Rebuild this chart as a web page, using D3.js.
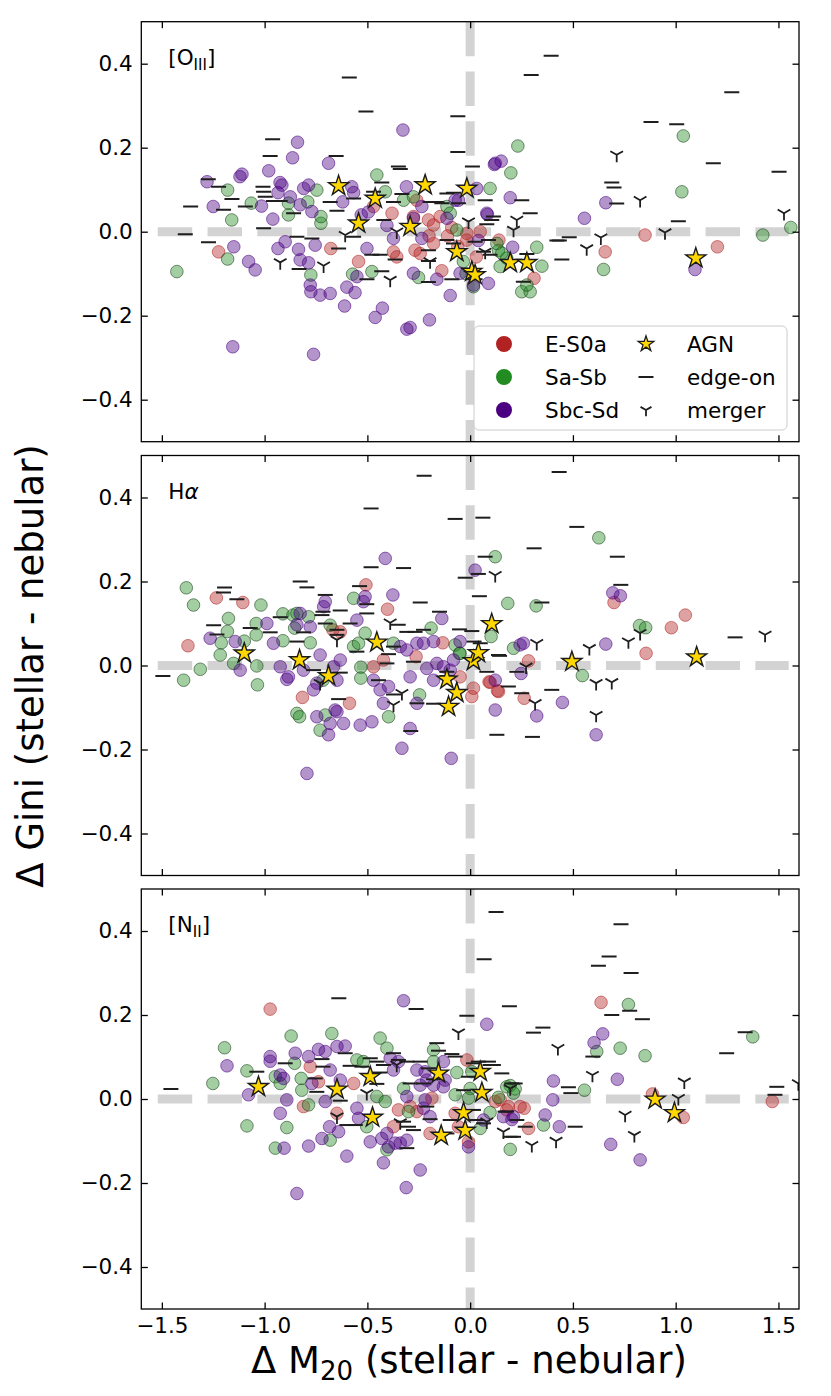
<!DOCTYPE html>
<html>
<head>
<meta charset="utf-8">
<script src="https://cdn.jsdelivr.net/npm/d3@7"></script>
<style>
  body { margin: 0; background: #fff; }
  svg { display: block; font-family: "DejaVu Sans", sans-serif; }
</style>
</head>
<body>
<svg id="chart" width="831" height="1396"></svg>
<script>
// [dM20, dGini] pairs, one array per panel and class

// [OIII]
const oiiiES0a = [[-0.47,0.06],[-0.38,0.044],[-0.26,0.075],[-0.276,0.036],[-0.203,0.028],[-0.178,0.016],[-0.146,0.036],[0.049,0.0],[-0.016,-0.004],[-1.224,-0.048],[-0.678,-0.04],[-0.543,-0.071],[-0.357,-0.06],[-0.373,-0.048],[-0.268,-0.044],[-0.243,-0.052],[-0.178,-0.028],[-0.138,-0.093],[-0.016,-0.02],[0.851,-0.008],[1.203,-0.036],[0.657,-0.048],[0.311,-0.111],[-0.11,-0.01],[-0.06,-0.035],[-0.09,0.01],[0.03,-0.06],[-0.2,-0.01],[0.14,-0.02]]
const oiiiSaSb = [[-1.18,0.099],[-1.16,0.028],[-1.065,0.068],[-0.884,0.04],[-0.884,0.068],[-0.79,0.071],[-0.746,0.099],[-0.726,0.02],[-0.726,0.036],[-0.454,0.135],[-0.413,0.095],[-0.324,0.075],[-0.276,0.083],[-0.113,0.06],[-0.097,0.044],[-0.065,0.004],[0.097,0.103],[0.232,0.204],[1.037,0.228],[1.03,0.095],[0.198,0.14],[1.56,0.01],[1.424,-0.008],[0.324,-0.037],[0.138,-0.045],[-1.427,-0.095],[-1.18,-0.065],[-0.775,-0.103],[-0.572,-0.101],[-0.478,-0.095],[-0.251,-0.109],[0.016,-0.131],[-0.033,-0.071],[0.13,-0.028],[0.649,-0.09],[0.349,-0.082],[0.251,-0.143],[0.292,-0.143],[0.276,-0.127],[0.146,-0.083],[0.178,-0.063],[0.154,-0.051],[-0.02,-0.1]]
const oiiiSbcSd = [[-0.84,0.213],[-0.864,0.176],[-1.28,0.119],[-1.25,0.06],[-1.11,0.137],[-1.12,0.131],[-0.98,0.145],[-1.015,0.061],[-0.96,0.03],[-0.935,0.093],[-0.925,0.117],[-0.916,0.111],[-0.875,0.083],[-0.827,0.064],[-0.81,0.103],[-0.786,0.111],[-0.689,0.163],[-0.77,0.048],[-0.62,0.071],[-0.576,0.107],[-0.567,0.093],[-0.53,0.04],[-0.495,0.047],[-0.327,0.242],[-0.31,0.107],[-0.373,-0.016],[-0.405,0.015],[-0.235,0.06],[-0.276,0.032],[-0.113,0.032],[-0.057,0.075],[0.081,0.044],[0.122,0.163],[0.118,0.16],[0.151,0.168],[0.195,0.081],[0.084,0.041],[0.556,0.032],[0.66,0.069],[0.207,-0.037],[0.04,-0.021],[0.032,0.103],[-0.073,0.075],[-1.15,-0.036],[-1.078,-0.071],[-1.046,-0.091],[-1.155,-0.274],[-0.762,-0.292],[-0.935,-0.04],[-0.9,-0.024],[-0.835,-0.042],[-0.827,-0.067],[-0.786,-0.074],[-0.754,-0.032],[-0.778,-0.127],[-0.775,-0.143],[-0.73,-0.151],[-0.681,-0.147],[-0.6,-0.132],[-0.56,-0.145],[-0.611,-0.177],[-0.462,-0.204],[-0.427,-0.182],[-0.308,-0.232],[-0.292,-0.228],[-0.198,-0.21],[-0.097,-0.152],[-0.162,-0.113],[-0.276,-0.099],[-0.502,-0.04],[-0.235,-0.016],[0.016,-0.127],[0.089,-0.123],[-0.049,-0.099],[-0.551,-0.107],[1.094,-0.09]]
const oiiiAgn = [[-0.64,0.109],[-0.462,0.079],[-0.543,0.02],[-0.219,0.111],[-0.292,0.012],[-0.016,0.103],[-0.065,-0.048],[0.008,-0.095],[0.024,-0.103],[0.195,-0.074],[0.276,-0.074],[1.098,-0.063]]
const oiiiEdgeOn = [[-0.588,0.367],[-0.507,0.286],[-0.961,0.22],[-0.973,0.18],[-0.652,0.18],[-0.06,0.275],[-0.06,0.19],[0.011,0.155],[-0.349,0.155],[-0.34,0.149],[-1.274,0.125],[-1.224,0.107],[-1.36,0.06],[-1.159,0.078],[-1.2,0.052],[-1.094,0.06],[-1.008,0.107],[-1.005,0.095],[-0.997,0.083],[-0.957,0.073],[-0.924,0.073],[-1.005,0.008],[-1.386,-0.006],[-0.681,0.071],[-0.648,0.05],[-0.567,0.079],[-0.47,0.095],[-0.43,0.117],[-0.42,0.028],[-0.373,0.071],[-0.332,0.09],[-0.195,0.071],[-0.162,0.071],[-0.138,0.068],[-0.113,0.091],[-0.081,0.093],[-0.057,0.068],[-0.843,-0.012],[-0.77,-0.016],[-0.859,0.044],[0.394,0.419],[0.297,0.373],[1.273,0.332],[0.88,0.261],[1.005,0.256],[1.183,0.163],[1.503,0.143],[0.689,0.117],[0.7,0.105],[0.713,0.067],[0.251,0.075],[0.073,0.075],[0.292,0.044],[0.113,0.036],[0.105,0.028],[0.081,0.018],[1.013,0.025],[0.482,-0.013],[0.434,-0.021],[-1.273,-0.025],[-0.64,-0.04],[-0.832,-0.089],[-0.502,-0.113],[-0.478,-0.055],[-0.438,-0.055],[-0.365,-0.066],[-0.43,-0.094],[-0.203,-0.044],[-0.203,-0.07],[-0.203,-0.12],[-0.113,-0.02],[-0.081,-0.028],[-0.089,-0.113],[0.024,-0.024],[0.024,-0.113],[0.097,-0.055],[-0.567,-0.012],[0.446,-0.066],[0.422,-0.021],[0.259,-0.119],[0.065,-0.048],[0.089,-0.02],[0.276,-0.053]]
const oiiiMerger = [[-0.608,-0.008],[-0.357,0.0],[-0.008,0.024],[0.713,0.183],[0.827,0.075],[1.527,0.044],[0.948,-0.002],[0.636,-0.014],[0.227,0.028],[0.211,0.004],[0.567,-0.04],[-0.924,-0.073],[-0.713,-0.081],[-0.389,-0.115],[-0.195,-0.071],[0.073,-0.048]]

// H-alpha
const haES0a = [[-1.235,0.161],[-1.373,0.047],[-1.106,0.15],[-0.816,-0.076],[-0.587,-0.09],[-0.668,0.085],[-0.632,0.08],[-0.507,0.192],[-0.402,0.134],[-0.47,-0.003],[-0.422,0.013],[-0.263,0.021],[-0.133,0.054],[-0.049,-0.027],[0.016,-0.054],[0.008,-0.074],[0.092,-0.039],[0.138,-0.062],[1.047,0.12],[0.979,0.09],[0.856,0.029],[0.7,0.15],[0.284,0.011],[0.097,-0.04],[0.133,-0.06],[0.263,-0.078]]
const haSaSb = [[-1.381,0.185],[-1.346,0.144],[-1.394,-0.035],[-1.313,-0.009],[-1.176,0.112],[-1.181,0.081],[-1.211,0.054],[-1.216,0.025],[-1.151,0.005],[-1.099,0.058],[-1.041,0.1],[-1.041,0.073],[-1.038,-0.001],[-1.035,-0.046],[-1.018,0.144],[-0.911,0.123],[-0.911,0.059],[-0.862,0.12],[-0.854,0.089],[-0.843,0.124],[-0.786,0.116],[-0.778,0.054],[-0.843,-0.114],[-0.83,-0.122],[-0.73,-0.154],[-0.705,-0.118],[-0.716,-0.035],[-0.681,0.096],[-0.567,0.16],[-0.567,0.045],[-0.543,0.053],[-0.532,-0.004],[-0.532,-0.03],[-0.511,0.077],[-0.397,-0.122],[-0.373,0.053],[-0.246,-0.07],[-0.19,0.089],[-0.052,0.029],[0.102,0.069],[0.183,0.148],[0.122,0.259],[0.211,0.041],[0.626,0.304],[0.321,0.142],[0.824,0.095],[0.854,0.09],[0.546,-0.024],[-0.073,0.049],[-0.049,0.029]]
const haSbcSd = [[-1.265,0.065],[-1.143,0.057],[-1.119,-0.011],[-0.989,0.1],[-0.957,0.053],[-0.924,-0.003],[-0.892,-0.033],[-0.884,-0.027],[-0.843,0.097],[-0.827,0.124],[-0.778,0.092],[-0.811,-0.011],[-0.762,-0.058],[-0.746,-0.042],[-0.713,0.14],[-0.705,0.152],[-0.73,0.025],[-0.746,-0.122],[-0.681,-0.138],[-0.648,-0.11],[-0.657,-0.106],[-0.689,-0.165],[-0.616,-0.138],[-0.665,-0.003],[-0.632,0.013],[-0.648,-0.035],[-0.535,-0.142],[-0.478,-0.134],[-0.551,0.108],[-0.511,0.164],[-0.519,0.152],[-0.47,-0.035],[-0.438,-0.058],[-0.397,-0.05],[-0.422,-0.09],[-0.413,0.255],[-0.376,0.168],[-0.332,-0.197],[-0.34,0.045],[-0.308,0.037],[-0.292,-0.027],[-0.259,0.053],[-0.227,0.053],[-0.178,0.057],[-0.211,-0.007],[-0.162,0.005],[-0.13,-0.003],[-0.178,-0.035],[-0.138,0.112],[-0.259,-0.09],[-0.292,-0.15],[-0.092,-0.221],[0.024,0.227],[-0.049,0.057],[-0.081,0.013],[-0.097,-0.011],[0.122,-0.035],[0.122,-0.106],[-0.794,-0.257],[0.243,0.049],[0.694,0.173],[0.731,0.166],[0.259,0.053],[0.66,0.051],[0.248,-0.019],[0.449,-0.088],[0.324,-0.12],[0.613,-0.165]]
const haAgn = [[-1.099,0.029],[-0.83,0.013],[-0.689,-0.025],[-0.454,0.055],[-0.113,-0.033],[-0.065,-0.065],[-0.105,-0.098],[0.016,0.011],[0.04,0.03],[0.105,0.099],[0.495,0.009],[1.102,0.02]]
const haEdgeOn = [[-0.224,0.452],[-0.482,0.374],[-0.073,0.349],[0.062,0.352],[0.073,0.259],[-0.024,0.209],[0.04,0.218],[0.045,0.165],[-0.482,0.234],[-0.324,0.232],[-0.827,0.2],[-0.794,0.186],[-1.195,0.186],[-1.2,0.174],[-1.135,0.158],[-1.248,0.096],[-1.232,0.074],[-1.07,0.089],[-0.973,0.079],[-0.924,0.115],[-0.843,0.057],[-0.811,0.079],[-1.495,-0.025],[-0.705,0.168],[-0.716,0.128],[-0.721,0.12],[-0.632,0.131],[-0.705,0.1],[-0.648,0.085],[-0.648,0.073],[-0.538,0.189],[-0.503,0.146],[-0.503,0.124],[-0.584,0.1],[-0.551,0.033],[-0.762,-0.011],[-0.632,-0.017],[-0.64,-0.08],[-0.446,-0.035],[-0.397,0.027],[-0.373,0.045],[-0.35,0.097],[-0.308,0.08],[-0.268,0.08],[-0.227,0.085],[-0.243,0.15],[-0.149,0.128],[-0.405,0.005],[-0.276,0.009],[-0.373,-0.069],[-0.259,-0.09],[-0.178,-0.091],[-0.289,-0.156],[-0.052,0.086],[0.008,0.082],[0.019,0.057],[0.049,0.053],[-0.113,-0.015],[-0.113,-0.025],[0.081,-0.015],[0.138,0.025],[0.186,-0.05],[0.13,-0.165],[0.433,0.461],[0.519,0.33],[0.311,0.279],[0.716,0.259],[0.733,0.192],[1.289,0.067],[0.349,0.15],[0.143,0.023],[0.227,-0.015],[0.251,-0.066],[0.397,-0.058],[0.303,-0.17]]
const haMerger = [[-0.389,0.102],[-0.332,-0.066],[-0.373,-0.094],[-0.73,-0.042],[-0.648,0.061],[0.122,0.215],[0.324,0.053],[0.58,0.041],[0.77,0.057],[0.827,0.077],[1.435,0.073],[0.272,-0.003],[0.613,-0.042],[0.689,-0.04],[0.316,-0.09],[0.613,-0.118]]

// [NII]
const niiES0a = [[-0.973,0.214],[-0.778,0.077],[-0.811,-0.018],[-0.648,-0.034],[-0.567,0.037],[-0.738,0.041],[-0.349,-0.026],[-0.292,-0.018],[-0.259,-0.03],[-0.373,-0.066],[-0.186,0.002],[-0.073,-0.034],[-0.057,-0.066],[-0.016,0.093],[-0.008,-0.102],[-0.195,-0.082],[0.146,-0.002],[0.178,-0.026],[0.243,-0.018],[0.637,0.23],[0.887,0.012],[1.037,-0.044],[1.47,-0.006],[0.263,-0.022],[0.284,-0.07],[0.186,-0.018],[0.122,-0.006]]
const niiSaSb = [[-1.195,0.122],[-1.252,0.037],[-1.086,0.067],[-1.086,-0.064],[-0.948,-0.117],[-0.892,-0.068],[-0.871,0.15],[-0.854,0.085],[-0.822,0.049],[-0.819,0.021],[-0.948,0.053],[-0.924,0.037],[-0.786,-0.014],[-0.673,0.156],[-0.681,-0.098],[-0.438,0.145],[-0.405,0.121],[-0.551,0.093],[-0.519,0.089],[-0.454,0.006],[-0.413,-0.006],[-0.503,-0.066],[-0.405,-0.121],[-0.324,0.025],[-0.3,-0.03],[-0.178,0.117],[-0.178,0.089],[-0.065,0.063],[-0.073,0.01],[0.008,0.065],[0.0,0.025],[-0.008,0.002],[0.097,-0.032],[0.049,-0.07],[0.195,-0.12],[0.195,0.032],[0.219,0.024],[0.138,0.004],[0.77,0.225],[1.375,0.148],[0.73,0.121],[0.851,0.103],[0.616,0.113],[0.556,0.021],[0.357,-0.062],[0.211,0.014],[0.178,0.029]]
const niiSbcSd = [[-1.183,0.079],[-1.078,0.01],[-0.973,0.101],[-0.973,0.09],[-0.924,0.057],[-0.908,0.049],[-0.851,0.109],[-0.892,-0.002],[-0.924,-0.034],[-0.786,0.101],[-0.738,0.118],[-0.705,0.113],[-0.77,0.037],[-0.705,-0.006],[-0.648,0.125],[-0.608,0.126],[-0.681,0.069],[-0.632,0.045],[-0.684,-0.066],[-0.64,-0.078],[-0.721,-0.094],[-0.786,-0.112],[-0.905,-0.117],[-0.6,-0.136],[-0.843,-0.225],[-0.551,-0.022],[-0.543,-0.046],[-0.486,-0.102],[-0.43,-0.094],[-0.405,-0.082],[-0.397,-0.114],[-0.365,-0.105],[-0.34,-0.105],[-0.308,-0.098],[-0.422,-0.152],[-0.324,0.234],[-0.311,-0.211],[-0.243,-0.169],[-0.389,0.097],[-0.349,0.089],[-0.373,0.069],[-0.308,0.006],[-0.259,0.069],[-0.219,0.065],[-0.243,0.033],[-0.211,0.045],[-0.178,0.033],[-0.219,-0.002],[-0.227,-0.022],[-0.195,-0.042],[-0.122,0.045],[-0.13,0.029],[-0.13,0.089],[0.081,0.178],[0.065,-0.05],[-0.008,-0.114],[0.211,-0.042],[0.645,0.155],[0.603,0.134],[0.716,0.047],[0.405,0.043],[0.402,-0.002],[0.365,-0.038],[0.434,-0.066],[0.684,-0.108],[0.827,-0.145],[0.162,-0.042],[0.203,-0.049]]
const niiAgn = [[-1.03,0.029],[-0.648,0.023],[-0.486,0.053],[-0.475,-0.044],[-0.154,0.061],[0.049,0.065],[0.057,0.015],[-0.032,-0.033],[-0.024,-0.075],[-0.141,-0.087],[0.9,-0.001],[0.994,-0.033]]
const niiEdgeOn = [[-1.456,0.024],[0.126,0.445],[0.068,0.333],[-0.639,0.24],[-0.263,0.214],[-0.016,0.198],[0.191,0.221],[-1.038,0.065],[-0.9,0.085],[-0.721,0.095],[-0.716,0.077],[-0.754,0.049],[-0.746,0.017],[-0.608,0.109],[-0.584,0.079],[-0.527,0.077],[-0.486,0.097],[-0.454,0.089],[-0.422,0.081],[-0.438,0.063],[-0.454,0.036],[-0.373,0.109],[-0.349,0.093],[-0.308,0.089],[-0.243,0.089],[-0.203,0.073],[-0.292,0.037],[-0.227,0.037],[-0.178,0.047],[-0.162,0.133],[-0.154,0.115],[-0.089,0.107],[-0.032,0.021],[-0.008,0.053],[0.016,0.085],[0.089,0.089],[0.113,0.081],[0.154,0.061],[0.219,0.037],[-0.632,-0.004],[-0.6,-0.062],[-0.559,-0.062],[-0.324,-0.054],[-0.3,-0.066],[-0.276,-0.074],[-0.308,-0.117],[-0.211,-0.018],[-0.195,-0.048],[-0.097,-0.05],[-0.113,-0.082],[0.016,-0.026],[0.032,-0.05],[0.065,-0.058],[0.178,-0.03],[0.211,-0.09],[0.227,-0.05],[0.734,0.416],[0.676,0.339],[0.624,0.317],[0.783,0.3],[0.689,0.2],[0.776,0.21],[0.838,0.19],[0.308,0.158],[0.354,0.17],[1.338,0.159],[1.248,0.109],[0.597,0.101],[0.478,0.028],[0.49,0.014],[1.492,0.029],[1.483,0.01],[0.511,-0.066],[0.268,-0.066],[0.195,-0.09],[0.097,0.081],[0.203,0.037],[0.17,-0.03],[0.04,0.089],[-0.073,0.101]]
const niiMerger = [[-0.057,0.158],[-0.357,0.081],[-0.503,0.014],[-0.648,-0.042],[-0.34,-0.056],[0.081,-0.054],[0.162,-0.078],[0.195,0.025],[0.427,0.121],[0.595,0.057],[1.042,0.041],[1.013,0.002],[1.597,0.037],[0.754,-0.038],[0.799,-0.086],[0.418,-0.1],[0.3,-0.11]]

const xTicks = [-1.5, -1.0, -0.5, 0.0, 0.5, 1.0, 1.5]
const yTicks = [-0.4, -0.2, 0.0, 0.2, 0.4]
const morphNames = ['E-S0a', 'Sa-Sb', 'Sbc-Sd']
const markerNames = ['AGN', 'edge-on', 'merger']
const refLineX = [-1.52, 1.55]

const panels = [
  { label: ['[O', 'III', ']'], morph: [oiiiES0a, oiiiSaSb, oiiiSbcSd], agn: oiiiAgn, edge: oiiiEdgeOn, merger: oiiiMerger, legend: true },
  { label: ['H', 'α'], morph: [haES0a, haSaSb, haSbcSd], agn: haAgn, edge: haEdgeOn, merger: haMerger },
  { label: ['[N', 'II', ']'], morph: [niiES0a, niiSaSb, niiSbcSd], agn: niiAgn, edge: niiEdgeOn, merger: niiMerger, xLabels: true }
]

const morphColors = ['#b22222', '#228b22', '#4b0082']
const morphEdges = ['#b22222', '#143d14', '#4b0082']

const left = 141.3
const width = 657.7
const height = 420
const tops = [21.7, 455.5, 889]
const tickLen = 6.5

const svg = d3.select('#chart')
svg.append('rect').attr('width', 831).attr('height', 1396).attr('fill', '#fff')

const x = d3.scaleLinear().domain([-1.6, 1.6]).range([0, width])
const y = d3.scaleLinear().domain([-0.5, 0.5]).range([height, 0])

const edgePath = 'M-7.5,0L7.5,0'
const mergerPath = (r) => `M0,0L0,${r}M0,0L${-0.866 * r},${-0.5 * r}M0,0L${0.866 * r},${-0.5 * r}`
const star = d3.symbol().type(d3.symbolStar)

panels.forEach((p, i) => {
  const g = svg.append('g').attr('transform', `translate(${left}, ${tops[i]})`)

  const clipId = `clip${i}`
  g.append('clipPath').attr('id', clipId)
    .append('rect').attr('width', width).attr('height', height)

  const plot = g.append('g').attr('clip-path', `url(#${clipId})`)

  // reference lines
  plot.append('line')
    .attr('x1', x(refLineX[0])).attr('x2', x(refLineX[1]))
    .attr('y1', y(0)).attr('y2', y(0))
    .attr('stroke', '#d3d3d3').attr('stroke-width', 9)
    .attr('stroke-dasharray', '34.5 15.3')
  plot.append('line')
    .attr('x1', x(0)).attr('x2', x(0))
    .attr('y1', y(0.5)).attr('y2', y(-0.5))
    .attr('stroke', '#d3d3d3').attr('stroke-width', 9)
    .attr('stroke-dasharray', '34.5 15.3')

  p.morph.forEach((data, k) => {
    plot.append('g')
      .selectAll('circle')
      .data(data)
      .join('circle')
      .attr('cx', (d) => x(d[0]))
      .attr('cy', (d) => y(d[1]))
      .attr('r', 6.3)
      .attr('fill', morphColors[k])
      .attr('fill-opacity', 0.42)
      .attr('stroke', morphEdges[k])
      .attr('stroke-opacity', 0.55)
      .attr('stroke-width', 1)
  })

  plot.append('g')
    .selectAll('path')
    .data(p.edge)
    .join('path')
    .attr('d', edgePath)
    .attr('transform', (d) => `translate(${x(d[0])}, ${y(d[1])})`)
    .attr('stroke', '#1e1e1e').attr('stroke-width', 2)

  plot.append('g')
    .selectAll('path')
    .data(p.merger)
    .join('path')
    .attr('d', mergerPath(7.3))
    .attr('transform', (d) => `translate(${x(d[0])}, ${y(d[1])})`)
    .attr('fill', 'none')
    .attr('stroke', '#1e1e1e').attr('stroke-width', 1.8)

  plot.append('g')
    .selectAll('path')
    .data(p.agn)
    .join('path')
    .attr('d', star.size(125))
    .attr('transform', (d) => `translate(${x(d[0])}, ${y(d[1])})`)
    .attr('fill', '#ffd700')
    .attr('stroke', '#1a1a1a').attr('stroke-width', 1.4)

  // ticks on all four sides, pointing in
  g.append('g')
    .attr('class', 'axis')
    .call(d3.axisLeft(y).tickValues(yTicks).tickSize(-tickLen).tickPadding(8.5).tickFormat(d3.format('.1f')))
  g.append('g')
    .attr('class', 'axis')
    .attr('transform', `translate(${width}, 0)`)
    .call(d3.axisRight(y).tickValues(yTicks).tickSize(-tickLen).tickFormat(''))
  g.append('g')
    .attr('class', 'axis')
    .call(d3.axisTop(x).tickValues(xTicks).tickSize(-tickLen).tickFormat(''))
  g.append('g')
    .attr('class', 'axis')
    .attr('transform', `translate(0, ${height})`)
    .call(d3.axisBottom(x).tickValues(xTicks).tickSize(-tickLen).tickPadding(8.5)
      .tickFormat(p.xLabels ? d3.format('.1f') : ''))

  g.selectAll('.axis .domain').remove()
  g.selectAll('.axis line').attr('stroke', '#000').attr('stroke-width', 1.3)
  g.selectAll('.axis text')
    .attr('fill', '#000')
    .style('font-family', '"DejaVu Sans", sans-serif')
    .style('font-size', '21.5px')

  g.append('rect')
    .attr('width', width).attr('height', height)
    .attr('fill', 'none').attr('stroke', '#000').attr('stroke-width', 1.3)

  // panel name
  const lab = g.append('text')
    .attr('x', 27).attr('y', 43)
    .style('font-size', '21.5px')
  if (p.label.length === 3) {
    lab.append('tspan').text(p.label[0])
    lab.append('tspan').attr('dy', 5).style('font-size', '15px').text(p.label[1])
    lab.append('tspan').attr('dy', -5).text(p.label[2])
  } else {
    lab.append('tspan').text(p.label[0])
    lab.append('tspan').style('font-style', 'italic').text(p.label[1])
  }

  if (p.legend) {
    const lg = g.append('g').attr('transform', 'translate(332.7, 304.3)')
    lg.append('rect')
      .attr('width', 313).attr('height', 104).attr('rx', 5)
      .attr('fill', '#fff').attr('fill-opacity', 0.8)
      .attr('stroke', '#cccccc').attr('stroke-width', 1)
    const rowY = [18, 51, 84]
    morphNames.forEach((name, k) => {
      lg.append('circle')
        .attr('cx', 30).attr('cy', rowY[k]).attr('r', 8)
        .attr('fill', morphColors[k])
      lg.append('text')
        .attr('x', 71).attr('y', rowY[k]).attr('dy', '0.36em')
        .style('font-size', '21.5px').text(name)
    })
    lg.append('path')
      .attr('d', star.size(75))
      .attr('transform', `translate(172, ${rowY[0]})`)
      .attr('fill', '#ffd700').attr('stroke', '#1a1a1a').attr('stroke-width', 1.3)
    lg.append('path')
      .attr('d', edgePath)
      .attr('transform', `translate(172, ${rowY[1]})`)
      .attr('stroke', '#1e1e1e').attr('stroke-width', 2)
    lg.append('path')
      .attr('d', mergerPath(6.3))
      .attr('transform', `translate(172, ${rowY[2]})`)
      .attr('fill', 'none').attr('stroke', '#1e1e1e').attr('stroke-width', 1.8)
    markerNames.forEach((name, k) => {
      lg.append('text')
        .attr('x', 213).attr('y', rowY[k]).attr('dy', '0.36em')
        .style('font-size', '21.5px').text(name)
    })
  }
})

// axis titles
const xTitle = svg.append('text')
  .attr('x', 469).attr('y', 1373)
  .attr('text-anchor', 'middle')
  .style('font-size', '37px')
xTitle.append('tspan').text('Δ M')
xTitle.append('tspan').attr('dy', 7).style('font-size', '26px').text('20')
xTitle.append('tspan').attr('dy', -7).text(' (stellar - nebular)')

svg.append('text')
  .attr('transform', 'translate(43, 666) rotate(-90)')
  .attr('text-anchor', 'middle')
  .style('font-size', '37px')
  .text('Δ Gini (stellar - nebular)')
</script>
</body>
</html>
